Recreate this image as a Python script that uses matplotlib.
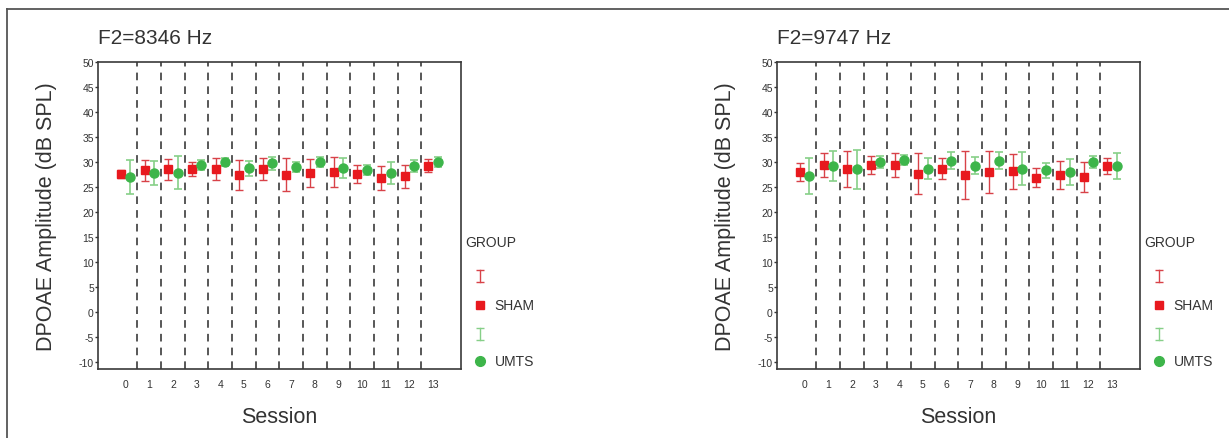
import matplotlib.pyplot as plt
import numpy as np
from matplotlib.lines import Line2D

plt.rcParams['font.family'] = ['Liberation Sans', 'DejaVu Sans']
plt.rcParams['axes.unicode_minus'] = False

sessions = np.arange(14)
tick_labels = [str(s) for s in sessions]

# F2 = 8346 Hz
sham_8346 = [27.6, 28.4, 28.6, 28.6, 28.6, 27.5, 28.6, 27.5, 27.9, 28.0, 27.6, 26.9, 27.2, 29.3]
sham_8346_err = [0.8, 2.1, 2.1, 1.4, 2.2, 3.0, 2.2, 3.3, 2.8, 3.0, 1.8, 2.4, 2.3, 1.3]
umts_8346 = [27.0, 27.9, 27.9, 29.5, 30.1, 28.8, 29.8, 29.0, 30.1, 28.8, 28.4, 27.9, 29.2, 30.0]
umts_8346_err = [3.4, 2.4, 3.3, 1.0, 0.8, 1.5, 1.3, 1.0, 1.0, 2.0, 1.0, 2.2, 1.2, 1.0]

# F2 = 9747 Hz
sham_9747 = [28.0, 29.5, 28.7, 29.5, 29.5, 27.7, 28.7, 27.4, 28.0, 28.2, 26.9, 27.4, 27.1, 29.2]
sham_9747_err = [1.8, 2.4, 3.6, 1.8, 2.4, 4.1, 2.1, 4.8, 4.2, 3.5, 1.9, 2.8, 3.0, 1.6]
umts_9747 = [27.2, 29.2, 28.6, 30.0, 30.5, 28.7, 30.3, 29.3, 30.3, 28.7, 28.4, 28.0, 30.0, 29.3]
umts_9747_err = [3.6, 3.0, 3.9, 1.2, 1.0, 2.1, 1.7, 1.7, 1.7, 3.3, 1.5, 2.6, 1.2, 2.6]

panels = [
    ("F2=8346 Hz", sham_8346, sham_8346_err, umts_8346, umts_8346_err),
    ("F2=9747 Hz", sham_9747, sham_9747_err, umts_9747, umts_9747_err),
]

red = '#e8191e'
red_bar = '#d84248'
green = '#3db54a'
green_bar = '#86cf88'
dark = '#333333'

fig = plt.figure(figsize=(12.29, 4.39), dpi=100)
fig.add_artist(Line2D([7/1229, 1.0], [1 - 10/439, 1 - 10/439], color='#555555', lw=1.3))
fig.add_artist(Line2D([7/1229, 7/1229], [0.0, 1 - 10/439], color='#555555', lw=1.3))

lefts = [98/1229, 777/1229]
for left, (title, sham, sham_err, umts, umts_err) in zip(lefts, panels):
    ax = fig.add_axes([left, 1 - 370/439, 363/1229, 307/439])

    for b in sessions[:-1] + 0.5:
        ax.axvline(b, color='#2a2a2a', lw=1.1, ls=(0, (5, 4)), zorder=1)

    ax.errorbar(sessions - 0.2, sham, yerr=sham_err, fmt='none', ecolor=red_bar,
                elinewidth=1.0, capsize=3.2, capthick=1.0, zorder=3)
    ax.errorbar(sessions + 0.2, umts, yerr=umts_err, fmt='none', ecolor=green_bar,
                elinewidth=1.2, capsize=3.2, capthick=1.2, zorder=3)
    ax.plot(sessions - 0.2, sham, ls='none', marker='s', ms=5.5, color=red, zorder=4)
    ax.plot(sessions + 0.2, umts, ls='none', marker='o', ms=6.5, color=green, zorder=4)

    ax.set_xlim(-1.17, 14.18)
    ax.set_ylim(-11.3, 50)
    ax.set_yticks(np.arange(-10, 51, 5))
    ax.set_xticks(sessions)
    ax.set_xticklabels(tick_labels)
    ax.tick_params(axis='y', length=2, width=1, pad=1, labelsize=7.5, colors=dark)
    ax.tick_params(axis='x', length=0, pad=7, labelsize=7.5, colors=dark)
    for sp in ax.spines.values():
        sp.set_color('#3a3a3a')
        sp.set_linewidth(1.2)

    ax.set_ylabel("DPOAE Amplitude (dB SPL)", fontsize=15.5, color=dark)
    ax.yaxis.set_label_coords(-0.113, 0.5)
    ax.set_xlabel("Session", fontsize=15.5, color=dark)
    ax.xaxis.set_label_coords(0.5, -0.12)
    ax.text(0.0, 1.08, title, transform=ax.transAxes, ha='left', va='center',
            fontsize=15, color=dark)

    # legend
    tr = ax.transAxes
    ax.text(1.012, 0.414, "GROUP", transform=tr, ha='left', va='center', fontsize=10, color=dark)
    for y, c in [(0.303, red_bar), (0.114, green_bar)]:
        ax.plot([1.053, 1.053], [y - 0.021, y + 0.021], color=c, lw=1.0, transform=tr, clip_on=False)
        ax.plot([1.053, 1.053], [y - 0.021, y + 0.021], ls='none', marker='_', ms=5.5, mew=1.0,
                color=c, transform=tr, clip_on=False)
    ax.plot([1.053], [0.208], ls='none', marker='s', ms=5.5, color=red, transform=tr, clip_on=False)
    ax.plot([1.053], [0.026], ls='none', marker='o', ms=7, color=green, transform=tr, clip_on=False)
    ax.text(1.092, 0.208, "SHAM", transform=tr, ha='left', va='center', fontsize=10, color=dark)
    ax.text(1.092, 0.026, "UMTS", transform=tr, ha='left', va='center', fontsize=10, color=dark)

fig.savefig('out.png', dpi=100)
